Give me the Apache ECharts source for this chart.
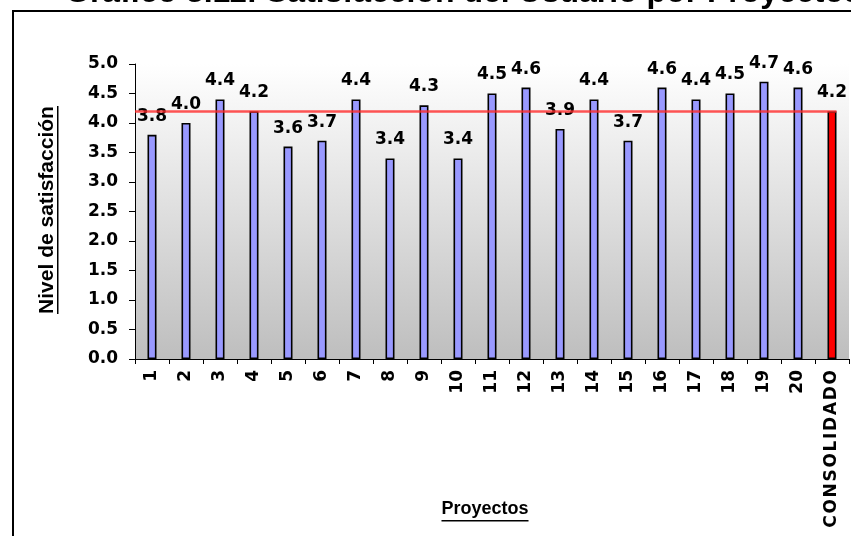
<!DOCTYPE html>
<html>
<head>
<meta charset="utf-8">
<script src="https://cdn.jsdelivr.net/npm/echarts@6/dist/echarts.min.js"></script>
<style>
  html, body { margin: 0; padding: 0; background: #ffffff; }
  #chart { width: 851px; height: 536px; }
</style>
</head>
<body>
<div id="chart"></div>
<script>
// Satisfacción del usuario por proyecto (escala 0–5)
const categories = ['1', '2', '3', '4', '5', '6', '7', '8', '9', '10',
  '11', '12', '13', '14', '15', '16', '17', '18', '19', '20', 'CONSOLIDADO'];
const projectScores = [3.8, 4.0, 4.4, 4.2, 3.6, 3.7, 4.4, 3.4, 4.3, 3.4,
  4.5, 4.6, 3.9, 4.4, 3.7, 4.6, 4.4, 4.5, 4.7, 4.6];
const consolidatedScore = 4.2;
const yAxisRange = [0, 5];
const yAxisStep = 0.5;

const titleText = 'Gráfico 3.11: Satisfacción del Usuario por Proyectos';
const yName = 'Nivel de satisfacción';
const xName = 'Proyectos';

const NUM_FONT = '"DejaVu Sans", Verdana, sans-serif';
const TXT_FONT = '"Liberation Sans", Arial, sans-serif';
const BAR_WIDTH = 9;

function textWidth(text, font) {
  const ctx = document.createElement('canvas').getContext('2d');
  ctx.font = font;
  return ctx.measureText(text).width;
}

// wide-spaced lettering for the word labels on the category axis
function spaced(label) {
  return /^\d+$/.test(label) ? label : label.split('').join('\u200A');
}

const barData = projectScores.map(v => ({ value: v }));
barData.push({ value: consolidatedScore, itemStyle: { color: '#ff0000' } });

const yNameFont = 'bold 21px ' + TXT_FONT;
const yNameW = textWidth(yName, yNameFont);
const xNameFont = 'bold 18px ' + TXT_FONT;
const xNameW = textWidth(xName, xNameFont);

const yNameCenter = [47, 210];
const xNameCenter = [485, 509];

const chart = echarts.init(document.getElementById('chart'), null, { renderer: 'canvas' });
chart.setOption({
  animation: false,
  backgroundColor: '#ffffff',
  title: {
    text: titleText,
    left: 65,
    top: -23,
    padding: 0,
    textStyle: { fontFamily: TXT_FONT, fontWeight: 'bold', fontSize: 32, color: '#000' }
  },
  grid: {
    left: 135, right: 2, top: 64, bottom: 177,
    show: true,
    borderWidth: 0,
    backgroundColor: new echarts.graphic.LinearGradient(0, 0, 0, 1, [
      { offset: 0, color: '#ffffff' },
      { offset: 1, color: '#bebebe' }
    ])
  },
  xAxis: {
    type: 'category',
    data: categories,
    axisLine: { lineStyle: { color: '#000', width: 1 } },
    axisTick: { show: true, interval: 0, length: 5, lineStyle: { color: '#000' } },
    axisLabel: {
      interval: 0, rotate: 90, margin: 11,
      formatter: spaced,
      fontFamily: NUM_FONT, fontWeight: 'bold', fontSize: 17, color: '#000'
    },
    splitLine: { show: false }
  },
  yAxis: {
    type: 'value',
    min: yAxisRange[0], max: yAxisRange[1], interval: yAxisStep,
    axisLine: { show: true, lineStyle: { color: '#000', width: 1 } },
    axisTick: { show: true, length: 6, lineStyle: { color: '#000' } },
    axisLabel: {
      margin: 17, formatter: v => v.toFixed(1),
      fontFamily: NUM_FONT, fontWeight: 'bold', fontSize: 17, color: '#000'
    },
    splitLine: { show: false }
  },
  series: [{
    id: 'scores',
    type: 'bar',
    data: barData,
    barWidth: BAR_WIDTH,
    itemStyle: { color: '#9999ff', borderColor: '#000', borderWidth: 1.6 },
    label: {
      show: true, position: 'top', distance: 10,
      formatter: p => p.value.toFixed(1),
      fontFamily: NUM_FONT, fontWeight: 'bold', fontSize: 17, color: '#000'
    }
  }],
  graphic: [
    {
      type: 'rect', z: 100, silent: true,
      shape: { x: 13, y: 11, width: 1000, height: 1000 },
      style: { fill: 'none', stroke: '#000', lineWidth: 2 }
    },
    {
      type: 'text', z: 100, silent: true,
      x: yNameCenter[0], y: yNameCenter[1], rotation: Math.PI / 2,
      style: { text: yName, font: yNameFont, fill: '#000', align: 'center', verticalAlign: 'middle' }
    },
    {
      type: 'rect', z: 100, silent: true,
      shape: { x: yNameCenter[0] + 10, y: yNameCenter[1] - yNameW / 2, width: 1.5, height: yNameW },
      style: { fill: '#000' }
    },
    {
      type: 'text', z: 100, silent: true,
      x: xNameCenter[0], y: xNameCenter[1],
      style: { text: xName, font: xNameFont, fill: '#000', align: 'center', verticalAlign: 'middle' }
    },
    {
      type: 'rect', z: 100, silent: true,
      shape: { x: xNameCenter[0] - xNameW / 2, y: xNameCenter[1] + 11, width: xNameW, height: 1.5 },
      style: { fill: '#000' }
    }
  ]
});

// Reference line at the consolidated level: from the value axis to the
// right edge of the consolidated bar, positioned through the axis scales.
const firstCenter = chart.convertToPixel({ xAxisIndex: 0 }, categories[0]);
const secondCenter = chart.convertToPixel({ xAxisIndex: 0 }, categories[1]);
const lastCenter = chart.convertToPixel({ xAxisIndex: 0 }, categories[categories.length - 1]);
const levelY = chart.convertToPixel({ yAxisIndex: 0 }, consolidatedScore);
const lineStartX = firstCenter - (secondCenter - firstCenter) / 2;
const lineEndX = lastCenter + BAR_WIDTH / 2;

chart.setOption({
  series: [{
    id: 'scores',
    markLine: {
      silent: true,
      symbol: 'none',
      label: { show: false },
      lineStyle: { color: '#ff2a2a', width: 2.5, type: 'solid', opacity: 0.8 },
      data: [[{ x: lineStartX, y: levelY }, { x: lineEndX, y: levelY }]]
    }
  }]
});
</script>
</body>
</html>
